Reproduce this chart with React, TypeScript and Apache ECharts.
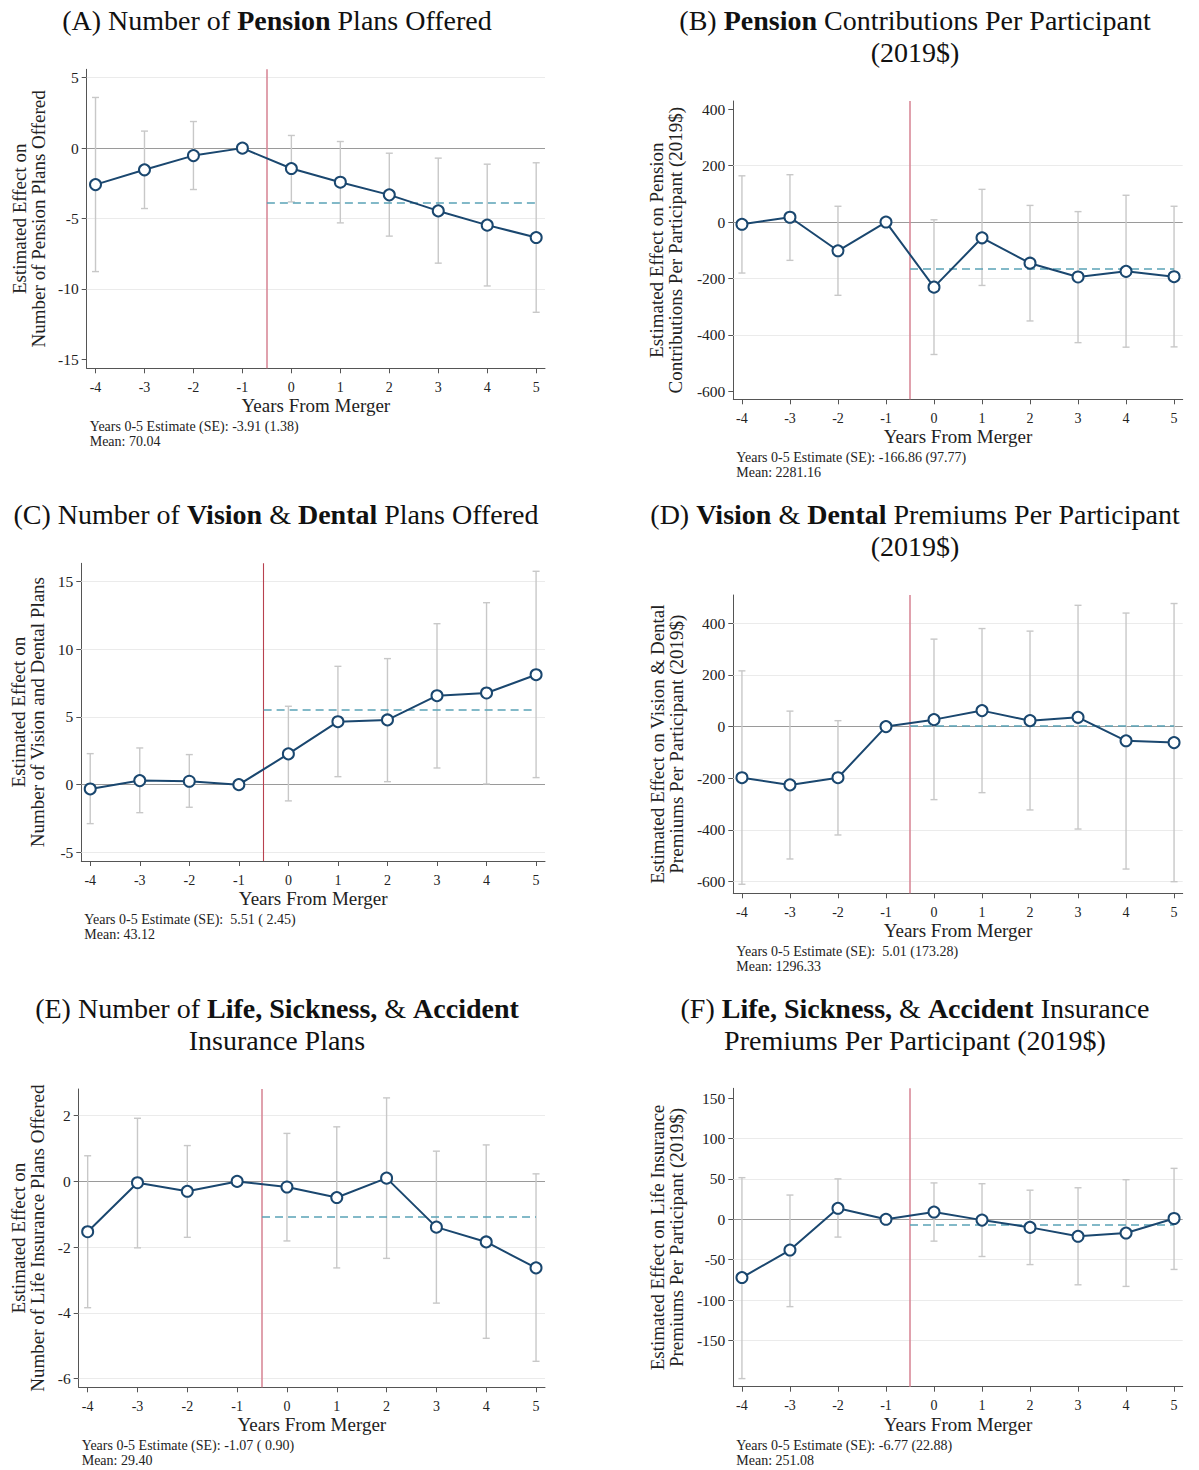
import React, { useEffect, useRef } from "react";
import * as echarts from "echarts";

const FONT = "'Liberation Serif', 'DejaVu Serif', serif";

const years = [-4, -3, -2, -1, 0, 1, 2, 3, 4, 5];

// (A) Number of pension plans offered
const pensionPlansEst = [-2.59, -1.54, -0.53, 0, -1.45, -2.42, -3.32, -4.46, -5.47, -6.35];
const pensionPlansLo = [-8.77, -4.29, -2.94, null, -3.82, -5.31, -6.25, -8.17, -9.79, -11.66];
const pensionPlansHi = [3.6, 1.21, 1.89, null, 0.9, 0.47, -0.36, -0.71, -1.14, -1.04];
const pensionPlansTicks = [-15, -10, -5, 0, 5];
const pensionPlansGrid = [-10, -5, 5];
const pensionPlansPost = -3.91;

// (B) Pension contributions per participant
const pensionContribEst = [-8, 17, -102, 0, -231, -56, -146, -195, -175, -194];
const pensionContribLo = [-181, -136, -260, null, -470, -225, -351, -428, -444, -443];
const pensionContribHi = [164, 168, 56, null, 8, 116, 59, 37, 95, 56];
const pensionContribTicks = [-600, -400, -200, 0, 200, 400];
const pensionContribGrid = [-400, -200, 200];
const pensionContribPost = -166.86;

// (C) Number of vision & dental plans offered
const visionPlansEst = [-0.32, 0.3, 0.25, 0, 2.27, 4.65, 4.78, 6.57, 6.77, 8.12];
const visionPlansLo = [-2.88, -2.07, -1.67, null, -1.2, 0.59, 0.22, 1.23, 0.05, 0.52];
const visionPlansHi = [2.29, 2.71, 2.22, null, 5.79, 8.74, 9.31, 11.89, 13.44, 15.76];
const visionPlansTicks = [-5, 0, 5, 10, 15];
const visionPlansGrid = [-5, 5, 10, 15];
const visionPlansPost = 5.51;

// (D) Vision & dental premiums per participant
const visionPremEst = [-198, -226, -198, 0, 27, 62, 23, 36, -55, -62];
const visionPremLo = [-611, -513, -420, null, -283, -256, -323, -397, -552, -601];
const visionPremHi = [216, 60, 23, null, 339, 380, 370, 470, 440, 477];
const visionPremTicks = [-600, -400, -200, 0, 200, 400];
const visionPremGrid = [-600, -400, -200, 200, 400];
const visionPremPost = 5.01;

// (E) Number of life, sickness & accident insurance plans
const lifePlansEst = [-1.53, -0.04, -0.3, 0, -0.17, -0.49, 0.1, -1.39, -1.84, -2.63];
const lifePlansLo = [-3.84, -2.02, -1.7, null, -1.81, -2.63, -2.34, -3.7, -4.77, -5.47];
const lifePlansHi = [0.78, 1.92, 1.09, null, 1.46, 1.66, 2.54, 0.92, 1.11, 0.23];
const lifePlansTicks = [-6, -4, -2, 0, 2];
const lifePlansGrid = [-6, -4, -2, 2];
const lifePlansPost = -1.07;

// (F) Life, sickness & accident insurance premiums per participant
const lifePremEst = [-72, -38, 13.6, 0, 9, -1, -10, -21, -17, 1];
const lifePremLo = [-197, -108, -22, null, -27, -46, -56, -81, -83, -62];
const lifePremHi = [51.5, 30, 50, null, 45, 44, 36, 39, 49, 63];
const lifePremTicks = [-150, -100, -50, 0, 50, 100, 150];
const lifePremGrid = [-150, -100, -50, 50, 100];
const lifePremPost = -6.77;

const NAVY = "#1a476f";
const TEAL = "#5aa2b6";

type Panel = {
  title: string;
  titleX: number;
  titleY: number;
  yName: string;
  yNameX: number;
  box: [number, number, number, number];
  yMin: number;
  yMax: number;
  est: number[];
  lo: (number | null)[];
  hi: (number | null)[];
  ticks: number[];
  grid: number[];
  post: number;
  note1: string;
  note2: string;
  redColor: string;
  redWidth: number;
};

const panels: Panel[] = [
  {
    title: "{n|(A) Number of }{b|Pension}{n| Plans Offered}",
    titleX: 277, titleY: 4,
    yName: "Estimated Effect on\nNumber of Pension Plans Offered",
    yNameX: 28.5,
    box: [86.7, 69.3, 545, 368.3],
    yMin: -15.64, yMax: 5.6,
    est: pensionPlansEst, lo: pensionPlansLo, hi: pensionPlansHi,
    ticks: pensionPlansTicks, grid: pensionPlansGrid, post: pensionPlansPost,
    note1: "Years 0-5 Estimate (SE): -3.91 (1.38)", note2: "Mean: 70.04",
    redColor: "#d98a99", redWidth: 1.6,
  },
  {
    title: "{n|(B) }{b|Pension}{n| Contributions Per Participant}\n{n|(2019$)}",
    titleX: 915, titleY: 4,
    yName: "Estimated Effect on Pension\nContributions Per Participant (2019$)",
    yNameX: 666,
    box: [733.3, 101, 1182.7, 399.3],
    yMin: -629, yMax: 429.5,
    est: pensionContribEst, lo: pensionContribLo, hi: pensionContribHi,
    ticks: pensionContribTicks, grid: pensionContribGrid, post: pensionContribPost,
    note1: "Years 0-5 Estimate (SE): -166.86 (97.77)", note2: "Mean: 2281.16",
    redColor: "#d98a99", redWidth: 1.6,
  },
  {
    title: "{n|(C) Number of }{b|Vision}{n| & }{b|Dental}{n| Plans Offered}",
    titleX: 276, titleY: 498,
    yName: "Estimated Effect on\nNumber of Vision and Dental Plans",
    yNameX: 27.5,
    box: [81.3, 563.3, 545, 861],
    yMin: -5.64, yMax: 16.35,
    est: visionPlansEst, lo: visionPlansLo, hi: visionPlansHi,
    ticks: visionPlansTicks, grid: visionPlansGrid, post: visionPlansPost,
    note1: "Years 0-5 Estimate (SE):  5.51 ( 2.45)", note2: "Mean: 43.12",
    redColor: "#b8414f", redWidth: 1.1,
  },
  {
    title: "{n|(D) }{b|Vision}{n| & }{b|Dental}{n| Premiums Per Participant}\n{n|(2019$)}",
    titleX: 915, titleY: 498,
    yName: "Estimated Effect on Vision & Dental\nPremiums Per Participant (2019$)",
    yNameX: 667,
    box: [733.3, 595, 1182.7, 893.3],
    yMin: -646, yMax: 510,
    est: visionPremEst, lo: visionPremLo, hi: visionPremHi,
    ticks: visionPremTicks, grid: visionPremGrid, post: visionPremPost,
    note1: "Years 0-5 Estimate (SE):  5.01 (173.28)", note2: "Mean: 1296.33",
    redColor: "#d98a99", redWidth: 1.6,
  },
  {
    title: "{n|(E) Number of }{b|Life, Sickness,}{n| & }{b|Accident}\n{n|Insurance Plans}",
    titleX: 277, titleY: 992,
    yName: "Estimated Effect on\nNumber of Life Insurance Plans Offered",
    yNameX: 27.5,
    box: [78.7, 1089, 545, 1387.3],
    yMin: -6.26, yMax: 2.81,
    est: lifePlansEst, lo: lifePlansLo, hi: lifePlansHi,
    ticks: lifePlansTicks, grid: lifePlansGrid, post: lifePlansPost,
    note1: "Years 0-5 Estimate (SE): -1.07 ( 0.90)", note2: "Mean: 29.40",
    redColor: "#d98a99", redWidth: 1.6,
  },
  {
    title: "{n|(F) }{b|Life, Sickness,}{n| & }{b|Accident}{n| Insurance}\n{n|Premiums Per Participant (2019$)}",
    titleX: 915, titleY: 992,
    yName: "Estimated Effect on Life Insurance\nPremiums Per Participant (2019$)",
    yNameX: 666.5,
    box: [733.3, 1088.3, 1182.7, 1386.7],
    yMin: -207, yMax: 162,
    est: lifePremEst, lo: lifePremLo, hi: lifePremHi,
    ticks: lifePremTicks, grid: lifePremGrid, post: lifePremPost,
    note1: "Years 0-5 Estimate (SE): -6.77 (22.88)", note2: "Mean: 251.08",
    redColor: "#d98a99", redWidth: 1.6,
  },
];

function buildOption() {
  const grids: any[] = [];
  const xAxes: any[] = [];
  const yAxes: any[] = [];
  const series: any[] = [];
  const graphics: any[] = [];

  panels.forEach((p, i) => {
    const [l, t, r, b] = p.box;
    grids.push({ left: l, top: t, width: r - l, height: b - t, containLabel: false });
    xAxes.push({
      type: "value",
      gridIndex: i,
      min: -4.18,
      max: 5.18,
      axisLine: { show: true, onZero: false, lineStyle: { color: "#555", width: 1 } },
      axisTick: { show: true, length: 5, customValues: years, lineStyle: { color: "#555" } },
      axisLabel: { customValues: years, fontFamily: FONT, fontSize: 14, lineHeight: 14, color: "#222", margin: 12 },
      splitLine: { show: false },
    });
    yAxes.push({
      type: "value",
      gridIndex: i,
      min: p.yMin,
      max: p.yMax,
      axisLine: { show: true, onZero: false, lineStyle: { color: "#555", width: 1 } },
      axisTick: { show: true, length: 5, customValues: p.ticks, lineStyle: { color: "#555" } },
      axisLabel: { customValues: p.ticks, fontFamily: FONT, fontSize: 15.5, color: "#222", margin: 8 },
      splitLine: { show: false },
    });

    // gridlines + zero line
    series.push({
      type: "line",
      xAxisIndex: i,
      yAxisIndex: i,
      data: [],
      silent: true,
      z: 1,
      markLine: {
        silent: true,
        symbol: "none",
        z: 1,
        label: { show: false },
        data: [
          ...p.grid.map((v) => ({ yAxis: v, lineStyle: { color: "#ebebeb", width: 1, type: "solid" } })),
          { yAxis: 0, lineStyle: { color: "#9a9a9a", width: 1.2, type: "solid" } },
        ],
      },
    });

    // error bars
    const ebData = years
      .map((x, k) => [x, p.lo[k], p.hi[k]])
      .filter((d) => d[1] !== null && d[2] !== null);
    series.push({
      type: "custom",
      xAxisIndex: i,
      yAxisIndex: i,
      z: 2,
      silent: true,
      encode: { x: 0, y: [1, 2] },
      data: ebData,
      renderItem: (_params: any, api: any) => {
        const x = api.value(0);
        const lo = api.value(1);
        const hi = api.value(2);
        const top = api.coord([x, hi]);
        const bot = api.coord([x, lo]);
        const w = 3.5;
        const style = { stroke: "#c8c8c8", lineWidth: 1.4 };
        return {
          type: "group",
          children: [
            { type: "line", shape: { x1: top[0], y1: top[1], x2: bot[0], y2: bot[1] }, style },
            { type: "line", shape: { x1: top[0] - w, y1: top[1], x2: top[0] + w, y2: top[1] }, style },
            { type: "line", shape: { x1: bot[0] - w, y1: bot[1], x2: bot[0] + w, y2: bot[1] }, style },
          ],
        };
      },
    });

    // merger line and post-period average
    series.push({
      type: "line",
      xAxisIndex: i,
      yAxisIndex: i,
      data: [],
      silent: true,
      z: 3,
      markLine: {
        silent: true,
        symbol: "none",
        z: 3,
        label: { show: false },
        data: [
          { xAxis: -0.5, lineStyle: { color: p.redColor, width: p.redWidth, type: "solid" } },
          [
            { coord: [-0.5, p.post], lineStyle: { color: TEAL, width: 1.5, type: [8, 5] } },
            { coord: [5, p.post] },
          ],
        ],
      },
    });

    // estimates
    series.push({
      type: "line",
      xAxisIndex: i,
      yAxisIndex: i,
      z: 10,
      data: years.map((x, k) => [x, p.est[k]]),
      symbol: "circle",
      symbolSize: 11,
      showSymbol: true,
      lineStyle: { color: NAVY, width: 2 },
      itemStyle: { color: "#ffffff", borderColor: NAVY, borderWidth: 2 },
    });

    // titles
    graphics.push({
      type: "text",
      x: p.titleX,
      y: p.titleY,
      style: {
        text: p.title,
        align: "center",
        verticalAlign: "top",
        rich: {
          n: { fontFamily: FONT, fontSize: 28, lineHeight: 32, fill: "#111" },
          b: { fontFamily: FONT, fontSize: 28, lineHeight: 32, fontWeight: "bold", fill: "#111" },
        },
      },
    });
    // y-axis name
    graphics.push({
      type: "text",
      x: p.yNameX,
      y: (t + b) / 2,
      rotation: Math.PI / 2,
      style: {
        text: p.yName,
        align: "center",
        verticalAlign: "middle",
        fontFamily: FONT,
        fontSize: 19,
        lineHeight: 19,
        fill: "#222",
      },
    });
    // x-axis name
    graphics.push({
      type: "text",
      x: (l + r) / 2,
      y: b + 37.5,
      style: {
        text: "Years From Merger",
        align: "center",
        verticalAlign: "middle",
        fontFamily: FONT,
        fontSize: 19,
        lineHeight: 19,
        fill: "#222",
      },
    });
    // notes
    graphics.push({
      type: "text",
      x: l + 3,
      y: b + 51,
      style: {
        text: p.note1 + "\n" + p.note2,
        align: "left",
        verticalAlign: "top",
        fontFamily: FONT,
        fontSize: 14,
        lineHeight: 15,
        fill: "#222",
      },
    });
  });

  return {
    animation: false,
    backgroundColor: "#ffffff",
    grid: grids,
    xAxis: xAxes,
    yAxis: yAxes,
    series,
    graphic: graphics,
  };
}

export default function App() {
  const ref = useRef<HTMLDivElement>(null);
  useEffect(() => {
    if (!ref.current) return;
    const chart = echarts.init(ref.current, undefined, { renderer: "svg" });
    chart.setOption(buildOption() as any);
    return () => chart.dispose();
  }, []);
  return (
    <div
      ref={ref}
      style={{ position: "absolute", left: 0, top: 0, width: 1199, height: 1470, background: "#fff" }}
    />
  );
}
